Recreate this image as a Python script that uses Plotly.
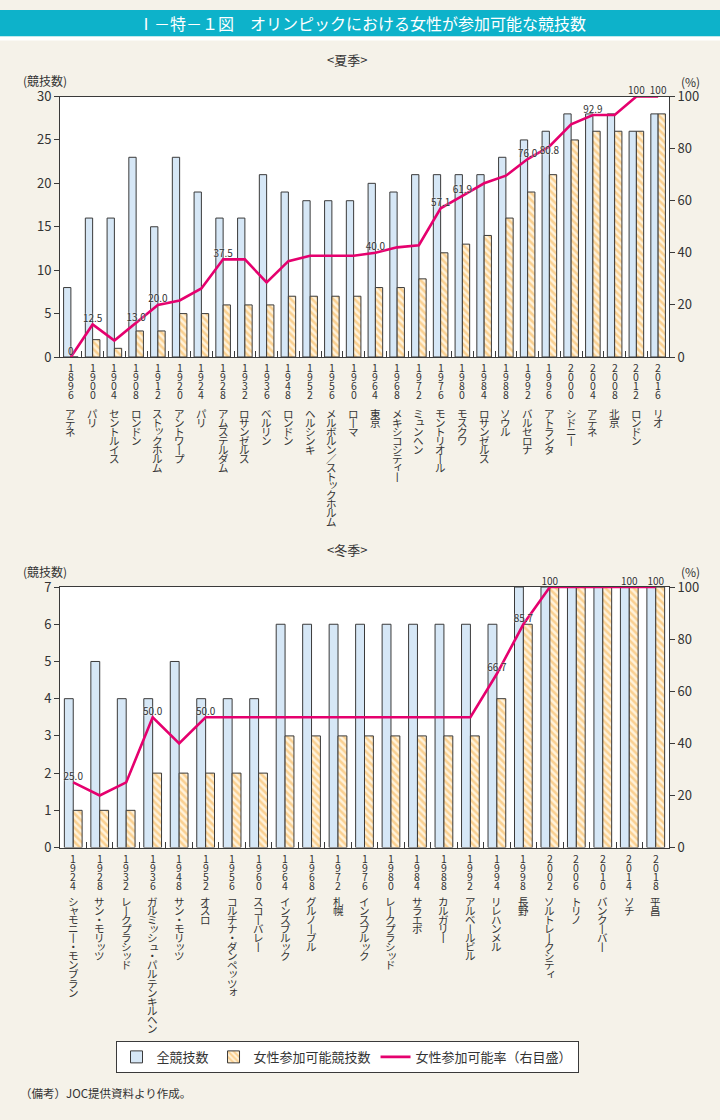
import plotly.graph_objects as go

W, H = 720, 1120
FONT = "Noto Sans CJK JP"

# ---------------- Data: summer ----------------
summer_years = ["1896", "1900", "1904", "1908", "1912", "1920", "1924", "1928", "1932", "1936",
                "1948", "1952", "1956", "1960", "1964", "1968", "1972", "1976", "1980", "1984",
                "1988", "1992", "1996", "2000", "2004", "2008", "2012", "2016"]
summer_cities = ["アテネ", "パリ", "セントルイス", "ロンドン", "ストックホルム", "アントワープ", "パリ",
                 "アムステルダム", "ロサンゼルス", "ベルリン", "ロンドン", "ヘルシンキ",
                 "メルボルン／ストックホルム", "ローマ", "東京", "メキシコシティー", "ミュンヘン",
                 "モントリオール", "モスクワ", "ロサンゼルス", "ソウル", "バルセロナ", "アトランタ",
                 "シドニー", "アテネ", "北京", "ロンドン", "リオ"]
summer_total = [8, 16, 16, 23, 15, 23, 19, 16, 16, 21, 19, 18, 18, 18, 20, 19, 21, 21, 21, 21,
                23, 25, 26, 28, 28, 28, 26, 28]
summer_women = [0, 2, 1, 3, 3, 5, 5, 6, 6, 6, 7, 7, 7, 7, 8, 8, 9, 12, 13, 14,
                16, 19, 21, 25, 26, 26, 26, 28]
summer_rate = [0, 12.5, 6.3, 13.0, 20.0, 21.7, 26.3, 37.5, 37.5, 28.6, 36.8, 38.9, 38.9, 38.9,
               40.0, 42.1, 42.9, 57.1, 61.9, 66.7, 69.6, 76.0, 80.8, 89.3, 92.9, 92.9, 100, 100]
summer_rate_labels = ["0", "12.5", "", "13.0", "20.0", "", "", "37.5", "", "", "", "", "", "",
                      "40.0", "", "", "57.1", "61.9", "", "", "76.0", "80.8", "", "92.9", "", "100", "100"]

# ---------------- Data: winter ----------------
winter_years = ["1924", "1928", "1932", "1936", "1948", "1952", "1956", "1960", "1964", "1968",
                "1972", "1976", "1980", "1984", "1988", "1992", "1994", "1998", "2002", "2006",
                "2010", "2014", "2018"]
winter_cities = ["シャモニー・モンブラン", "サン・モリッツ", "レークプラシッド", "ガルミッシュ・パルテンキルヘン",
                 "サン・モリッツ", "オスロ", "コルチナ・ダンペッツォ", "スコーバレー", "インスブルック",
                 "グルノーブル", "札幌", "インスブルック", "レークプラシッド", "サラエボ", "カルガリー",
                 "アルベールビル", "リレハンメル", "長野", "ソルトレークシティ", "トリノ", "バンクーバー",
                 "ソチ", "平昌"]
winter_total = [4, 5, 4, 4, 5, 4, 4, 4, 6, 6, 6, 6, 6, 6, 6, 6, 6, 7, 7, 7, 7, 7, 7]
winter_women = [1, 1, 1, 2, 2, 2, 2, 2, 3, 3, 3, 3, 3, 3, 3, 3, 4, 6, 7, 7, 7, 7, 7]
winter_rate = [25.0, 20.0, 25.0, 50.0, 40.0, 50.0, 50.0, 50.0, 50.0, 50.0, 50.0, 50.0, 50.0,
               50.0, 50.0, 50.0, 66.7, 85.7, 100, 100, 100, 100, 100]
winter_rate_labels = ["25.0", "", "", "50.0", "", "50.0", "", "", "", "", "", "", "", "", "", "",
                      "66.7", "85.7", "100", "", "", "100", "100"]

legend_names = ["全競技数", "女性参加可能競技数", "女性参加可能率（右目盛）"]

# ---------------- Styles ----------------
BLUE = "#D6E7F6"
EDGE = "#3A3A3A"
ORANGE = "#F6AE48"
ORANGE_BG = "#FFF2DA"
PINK = "#E5006E"
TXT = "#333333"
BG = "#F5F2E9"


def py(px):
    return 1 - px / H


fig = go.Figure()


def add_panel(xa, ya, ya2, years, total, women, rate, labels, showlegend, label_pos):
    fig.add_trace(go.Bar(
        x=years, y=total, name=legend_names[0], xaxis=xa, yaxis=ya,
        marker=dict(color=BLUE, line=dict(color=EDGE, width=1)),
        showlegend=showlegend, legendgroup="a"))
    fig.add_trace(go.Bar(
        x=years, y=women, name=legend_names[1], xaxis=xa, yaxis=ya,
        marker=dict(color=ORANGE_BG, line=dict(color=EDGE, width=1),
                    pattern=dict(shape="\\", fgcolor=ORANGE, bgcolor=ORANGE_BG,
                                 size=5, solidity=0.5)),
        showlegend=showlegend, legendgroup="b"))
    fig.add_trace(go.Scatter(
        x=years, y=rate, name=legend_names[2], xaxis=xa, yaxis=ya2,
        mode="lines+text", line=dict(color=PINK, width=2.6),
        text=labels, textposition=label_pos,
        textfont=dict(family=FONT, size=10, color=TXT, shadow="0px 0px 2px white"),
        cliponaxis=False, showlegend=showlegend, legendgroup="c"))


pos_s = ["top center"] * len(summer_years)
pos_s[summer_years.index("1996")] = "bottom center"
pos_w = ["top center"] * len(winter_years)

add_panel("x", "y", "y2", summer_years, summer_total, summer_women, summer_rate,
          summer_rate_labels, True, pos_s)
add_panel("x2", "y3", "y4", winter_years, winter_total, winter_women, winter_rate,
          winter_rate_labels, False, pos_w)

# ---------------- Axes ----------------
xdom = [60 / W, 669 / W]
sum_dom = [py(353), py(88)]
win_dom = [py(852), py(587)]

xcommon = dict(type="category", showticklabels=False, ticks="inside", tickson="boundaries",
               ticklen=6, tickcolor=EDGE, showline=True, linecolor=EDGE, linewidth=1,
               mirror=True, showgrid=False, zeroline=False, fixedrange=True)
ycommon = dict(ticks="outside", ticklen=5, tickcolor=EDGE, showline=True, linecolor=EDGE,
               linewidth=1, showgrid=False, zeroline=False,
               tickfont=dict(family=FONT, size=13, color=TXT))

fig.update_layout(
    xaxis=dict(domain=xdom, anchor="y", categoryorder="array", categoryarray=summer_years,
               range=[-0.5, len(summer_years) - 0.5], autorange=False, **xcommon),
    yaxis=dict(domain=sum_dom, anchor="x", range=[0, 30], dtick=5, **ycommon),
    yaxis2=dict(overlaying="y", side="right", anchor="x", range=[0, 100], dtick=20, **ycommon),
    xaxis2=dict(domain=xdom, anchor="y3", categoryorder="array", categoryarray=winter_years,
                range=[-0.5, len(winter_years) - 0.5], autorange=False, **xcommon),
    yaxis3=dict(domain=win_dom, anchor="x2", range=[0, 7], dtick=1, **ycommon),
    yaxis4=dict(overlaying="y3", side="right", anchor="x2", range=[0, 100], dtick=20, **ycommon),
)

# ---------------- Text annotations ----------------
anns = []
SMALL = set("ッャュョィォァ")


def vertical_label(xref, idx, text, y0, step, size):
    # Japanese vertical writing: one upright character per line
    for i, ch in enumerate(text):
        c = ch
        if c == "ー":
            c = "丨"
        xs, ys = 0, 0
        if ch in SMALL:
            xs, ys = 1.5, 1.5
        anns.append(dict(x=idx, xref=xref, y=py(y0 + i * step), yref="paper", text=c,
                         showarrow=False, xanchor="center", yanchor="middle",
                         xshift=xs, yshift=ys,
                         font=dict(family=FONT, size=size, color=TXT)))


for i, (yr, city) in enumerate(zip(summer_years, summer_cities)):
    vertical_label("x", i, yr, 363.5, 9.1, 10.5)
    vertical_label("x", i, city, 410, 9.2, 10.5)
for i, (yr, city) in enumerate(zip(winter_years, winter_cities)):
    vertical_label("x2", i, yr, 863.5, 8.9, 10.5)
    vertical_label("x2", i, city, 907, 9.2, 10.5)


def txt(x, y, s, size, color=TXT, xanchor="center"):
    anns.append(dict(x=x / W, y=py(y), xref="paper", yref="paper", text=s, showarrow=False,
                     xanchor=xanchor, yanchor="middle",
                     font=dict(family=FONT, size=size, color=color)))


txt(362, 13.5, "Ⅰ－特－１図　オリンピックにおける女性が参加可能な競技数", 16, "white")
txt(347, 50, "&lt;夏季&gt;", 13)
txt(347, 549, "&lt;冬季&gt;", 13)
txt(45, 72, "(競技数)", 12)
txt(45, 571, "(競技数)", 12)
txt(690, 73, "(%)", 12)
txt(690, 571, "(%)", 12)
txt(18, 1102, "（備考）JOC提供資料より作成。", 11.5, xanchor="left")

shapes = [
    dict(type="rect", xref="paper", yref="paper", x0=0, x1=1, y0=py(27), y1=1,
         fillcolor="#0DB2CA", line=dict(width=0), layer="below"),
    dict(type="rect", xref="paper", yref="paper", x0=0, x1=1, y0=py(31), y1=py(27),
         fillcolor="white", line=dict(width=0), layer="below"),
]

fig.update_layout(
    width=W, height=H, autosize=False,
    margin=dict(l=0, r=0, t=0, b=0, pad=0),
    paper_bgcolor=BG, plot_bgcolor="white",
    barmode="group", bargap=0.33, bargroupgap=0,
    font=dict(family=FONT, color=TXT),
    annotations=anns, shapes=shapes,
    legend=dict(orientation="h", x=347 / W, xanchor="center", y=py(1065), yanchor="middle",
                bgcolor="white", bordercolor=EDGE, borderwidth=1,
                font=dict(family=FONT, size=13, color=TXT), traceorder="normal",
                itemwidth=30),
)

fig.write_html("out.html", config={"displayModeBar": False},
               post_script="document.body.style.margin='0';")
